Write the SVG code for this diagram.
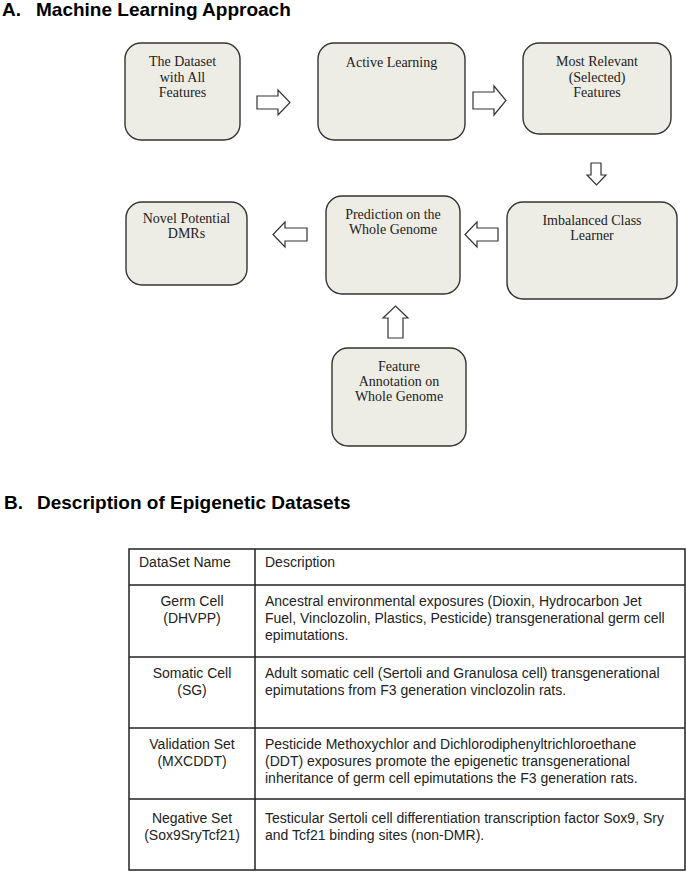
<svg xmlns="http://www.w3.org/2000/svg" width="686" height="872" viewBox="0 0 686 872">
<style>
.title{font-family:"Liberation Sans",Arial,sans-serif;font-weight:bold;font-size:19px;fill:#000}
.box{fill:#eeede5;stroke:#333;stroke-width:1.4}
.nt{font-family:"Liberation Serif","DejaVu Serif",serif;font-size:14px;fill:#222;text-anchor:middle}
.arr{fill:#fff;stroke:#333;stroke-width:1.2;stroke-linejoin:miter}
.tl{fill:none;stroke:#222;stroke-width:1.5}
.tt{font-family:"Liberation Sans",Arial,sans-serif;font-size:14px;fill:#222}
.tc{text-anchor:middle}
</style>
<rect width="686" height="872" fill="#fff"/>
<text class="title" x="2" y="16">A.</text>
<text class="title" x="36" y="16">Machine Learning Approach</text>
<text class="title" x="4" y="509">B.</text>
<text class="title" x="37" y="509">Description of Epigenetic Datasets</text>

<g id="n1"><rect class="box" x="125" y="43" width="115" height="97" rx="16"/>
<text class="nt" x="182.5" y="66">The Dataset</text><text class="nt" x="182.5" y="81.5">with All</text><text class="nt" x="182.5" y="97">Features</text></g>
<g id="n2"><rect class="box" x="318" y="43" width="147" height="97" rx="16"/>
<text class="nt" x="391.5" y="67">Active Learning</text></g>
<g id="n3"><rect class="box" x="523" y="43" width="148" height="91" rx="16"/>
<text class="nt" x="597" y="66">Most Relevant</text><text class="nt" x="597" y="81.5">(Selected)</text><text class="nt" x="597" y="97">Features</text></g>
<g id="n4"><rect class="box" x="507" y="202" width="170" height="97" rx="16"/>
<text class="nt" x="592" y="225">Imbalanced Class</text><text class="nt" x="592" y="240">Learner</text></g>
<g id="n5"><rect class="box" x="326" y="196" width="134" height="98" rx="16"/>
<text class="nt" x="393" y="219">Prediction on the</text><text class="nt" x="393" y="234">Whole Genome</text></g>
<g id="n6"><rect class="box" x="126" y="202" width="121" height="83" rx="16"/>
<text class="nt" x="186.5" y="223">Novel Potential</text><text class="nt" x="186.5" y="238">DMRs</text></g>
<g id="n7"><rect class="box" x="332" y="348" width="134" height="98" rx="16"/>
<text class="nt" x="399" y="371">Feature</text><text class="nt" x="399" y="386">Annotation on</text><text class="nt" x="399" y="401">Whole Genome</text></g>

<g id="connectors">
<polygon class="arr" points="257,96 278,96 278,90 290,102.5 278,115 278,109 257,109"/>
<polygon class="arr" points="473,92 494,92 494,86 506,100.5 494,115 494,109 473,109"/>
<polygon class="arr" points="591,163 601,163 601,175 606,175 596.5,185 587,175 591,175"/>
<polygon class="arr" points="498,228 477,228 477,222 465,234.5 477,247 477,241 498,241"/>
<polygon class="arr" points="307,228 285,228 285,222 273,234.5 285,247 285,241 307,241"/>
<polygon class="arr" points="388,338 388,318 383,318 395.5,306 408,318 403,318 403,338"/>
</g>

<g id="table">
<rect class="tl" x="129" y="549" width="556" height="321"/>
<line class="tl" x1="255" y1="549" x2="255" y2="870"/>
<line class="tl" x1="129" y1="585" x2="685" y2="585"/>
<line class="tl" x1="129" y1="657" x2="685" y2="657"/>
<line class="tl" x1="129" y1="728" x2="685" y2="728"/>
<line class="tl" x1="129" y1="799" x2="685" y2="799"/>
<text class="tt" x="139" y="567">DataSet Name</text>
<text class="tt" x="265" y="567">Description</text>
<text class="tt tc" x="192" y="606">Germ Cell</text>
<text class="tt tc" x="192" y="623">(DHVPP)</text>
<text class="tt" x="265" y="606">Ancestral environmental exposures (Dioxin, Hydrocarbon Jet</text>
<text class="tt" x="265" y="623">Fuel, Vinclozolin, Plastics, Pesticide) transgenerational germ cell</text>
<text class="tt" x="265" y="640">epimutations.</text>
<text class="tt tc" x="192" y="678">Somatic Cell</text>
<text class="tt tc" x="192" y="695">(SG)</text>
<text class="tt" x="265" y="678">Adult somatic cell (Sertoli and Granulosa cell) transgenerational</text>
<text class="tt" x="265" y="695">epimutations from F3 generation vinclozolin rats.</text>
<text class="tt tc" x="192" y="749">Validation Set</text>
<text class="tt tc" x="192" y="766">(MXCDDT)</text>
<text class="tt" x="265" y="749">Pesticide Methoxychlor and Dichlorodiphenyltrichloroethane</text>
<text class="tt" x="265" y="766">(DDT) exposures promote the epigenetic transgenerational</text>
<text class="tt" x="265" y="783">inheritance of germ cell epimutations the F3 generation rats.</text>
<text class="tt tc" x="192" y="823">Negative Set</text>
<text class="tt tc" x="192" y="840">(Sox9SryTcf21)</text>
<text class="tt" x="265" y="823">Testicular Sertoli cell differentiation transcription factor Sox9, Sry</text>
<text class="tt" x="265" y="840">and Tcf21 binding sites (non-DMR).</text>
</g>
</svg>
